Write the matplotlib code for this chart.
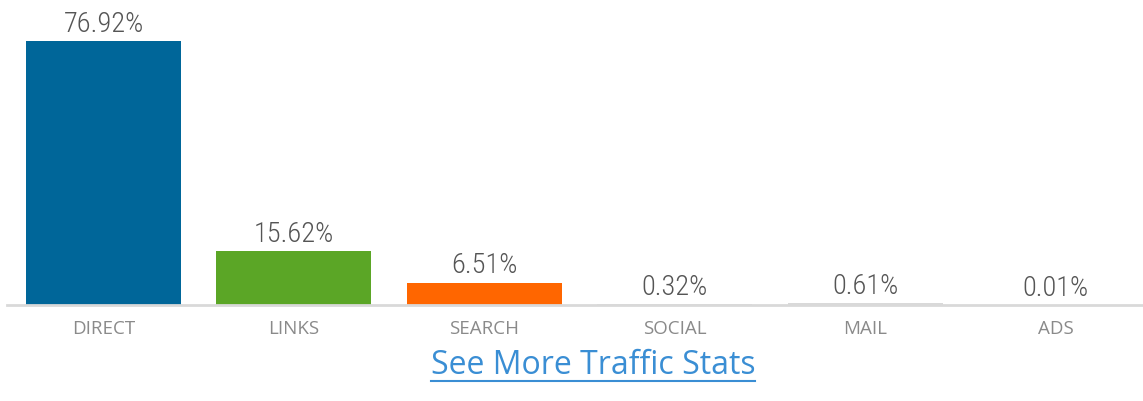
import matplotlib
matplotlib.use("Agg")
import matplotlib.pyplot as plt
from matplotlib.lines import Line2D
from matplotlib import font_manager

categories = ["DIRECT", "LINKS", "SEARCH", "SOCIAL", "MAIL", "ADS"]
shares = [76.92, 15.62, 6.51, 0.32, 0.61, 0.01]
colors = ["#006699", "#5ba626", "#ff6600", "#d9d9d9", "#d9d9d9", "#d9d9d9"]

# pick a narrow face if the system has one
names = {f.name for f in font_manager.fontManager.ttflist}
narrow = [n for n in ["Liberation Sans Narrow", "DejaVu Sans Condensed", "Roboto Condensed",
                      "Open Sans Condensed"] if n in names]
value_font = [narrow[0]] if narrow else ["Roboto"]

fig = plt.figure(figsize=(11.43, 4.02), dpi=100)
ax = fig.add_axes([7 / 1143, 96 / 402, 1136 / 1143, 306 / 402])

x = list(range(len(categories)))
ax.bar(x, shares, width=0.814, color=colors)
ax.set_xlim(-0.507, 5.46)
ax.set_ylim(0, 76.92 * 306 / 264)

for xi, v in zip(x, shares):
    ax.annotate(f"{v:.2f}%", (xi, v), xytext=(0, 3), textcoords="offset points",
                ha="center", va="bottom", fontsize=20.5 if narrow else 18, color="#555555",
                family=value_font, fontstretch="condensed", fontweight="light")

for s in ["top", "right", "left"]:
    ax.spines[s].set_visible(False)
ax.spines["bottom"].set_color("#d9d9d9")
ax.spines["bottom"].set_linewidth(2)
ax.set_yticks([])
ax.set_xticks(x)
ax.set_xticklabels(categories, fontsize=13.5, color="#8a8a8a", family="Open Sans")
ax.tick_params(axis="x", length=0, pad=10)

link = fig.text(593 / 1143, 1 - 366 / 402, "See More Traffic Stats", ha="center", va="center",
                fontsize=23, color="#3a8ed4", family="Open Sans")
fig.canvas.draw()
bb = link.get_window_extent()
uy = bb.y0 + 1
fig.add_artist(Line2D([bb.x0 / 1143, bb.x1 / 1143], [uy / 402, uy / 402],
                      color="#3a8ed4", linewidth=1.5, transform=fig.transFigure))

fig.savefig("out.png", dpi=100)
